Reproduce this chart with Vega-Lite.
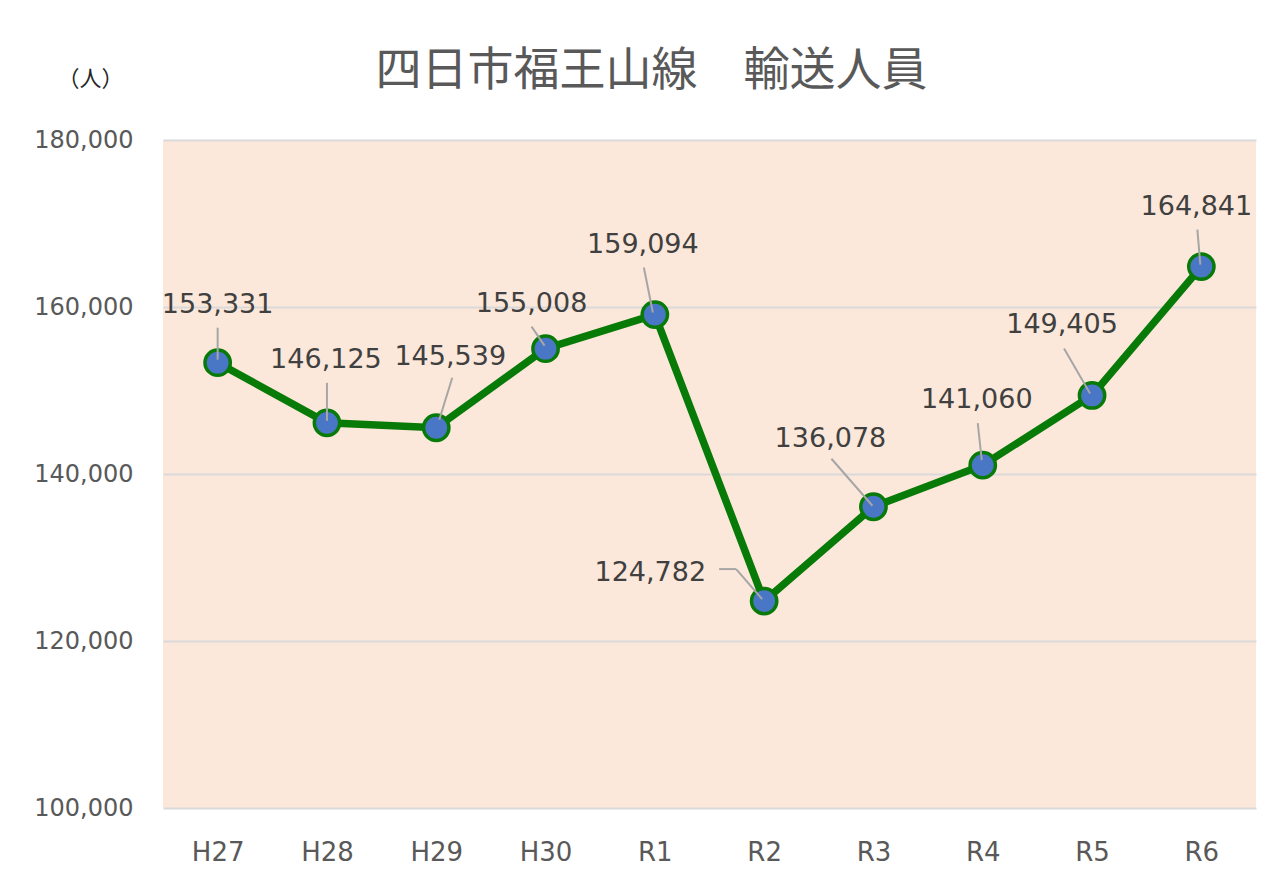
{
  "$schema": "https://vega.github.io/schema/vega-lite/v6.json",
  "width": 1093,
  "height": 668,
  "autosize": "none",
  "padding": {"left": 163, "top": 140, "right": 20, "bottom": 82},
  "background": "#FFFFFF",
  "title": {
    "text": "四日市福王山線　輸送人員",
    "font": "Noto Sans CJK JP",
    "fontSize": 46,
    "fontWeight": "normal",
    "color": "#595959",
    "anchor": "middle",
    "dx": -58,
    "offset": -28
  },
  "config": {
    "view": {"fill": "#FCE8DA", "stroke": null},
    "axis": {"labelFont": "DejaVu Sans", "labelFontSize": 24, "labelColor": "#595959", "ticks": false, "domain": false}
  },
  "data": {
    "values": [
      {"year": "H27", "value": 153331},
      {"year": "H28", "value": 146125},
      {"year": "H29", "value": 145539},
      {"year": "H30", "value": 155008},
      {"year": "R1", "value": 159094},
      {"year": "R2", "value": 124782},
      {"year": "R3", "value": 136078},
      {"year": "R4", "value": 141060},
      {"year": "R5", "value": 149405},
      {"year": "R6", "value": 164841}
    ]
  },
  "encoding": {
    "x": {
      "field": "year", "type": "ordinal", "sort": null,
      "scale": {"type": "point", "padding": 0.5},
      "axis": {"title": null, "labelAngle": 0, "labelPadding": 31, "labelFontSize": 26, "grid": false}
    },
    "y": {
      "field": "value", "type": "quantitative",
      "scale": {"domain": [100000, 180000], "nice": false, "zero": false},
      "axis": {
        "values": [100000, 120000, 140000, 160000, 180000],
        "format": ",.0f",
        "labelPadding": 30,
        "grid": true, "gridColor": "#D9D9D9", "gridWidth": 2,
        "title": "（人）",
        "titleAngle": 0, "titleX": -73, "titleY": -62,
        "titleAlign": "center", "titleBaseline": "middle",
        "titleFont": "Noto Sans CJK JP", "titleFontSize": 22, "titleFontWeight": "normal", "titleColor": "#262626"
      }
    }
  },
  "layer": [
    {"mark": {"type": "line", "color": "#087A08", "strokeWidth": 7.5}},
    {"mark": {"type": "point", "filled": true, "fill": "#4A76C6", "stroke": "#087A08", "strokeWidth": 3.5, "size": 640, "opacity": 1}},
    {
      "transform": [{"filter": "datum.year == 'H27'"}],
      "mark": {"type": "rule", "color": "#A6A6A6", "strokeWidth": 2, "xOffset": 0, "yOffset": -35, "x2Offset": 0, "y2Offset": -3},
      "encoding": {"x2": {"field": "year"}, "y2": {"field": "value"}}
    },
    {
      "transform": [{"filter": "datum.year == 'H28'"}],
      "mark": {"type": "rule", "color": "#A6A6A6", "strokeWidth": 2, "xOffset": 0, "yOffset": -40, "x2Offset": 0, "y2Offset": -2},
      "encoding": {"x2": {"field": "year"}, "y2": {"field": "value"}}
    },
    {
      "transform": [{"filter": "datum.year == 'H29'"}],
      "mark": {"type": "rule", "color": "#A6A6A6", "strokeWidth": 2, "xOffset": 16, "yOffset": -50, "x2Offset": 3, "y2Offset": -8},
      "encoding": {"x2": {"field": "year"}, "y2": {"field": "value"}}
    },
    {
      "transform": [{"filter": "datum.year == 'H30'"}],
      "mark": {"type": "rule", "color": "#A6A6A6", "strokeWidth": 2, "xOffset": -14, "yOffset": -22, "x2Offset": -1, "y2Offset": -3},
      "encoding": {"x2": {"field": "year"}, "y2": {"field": "value"}}
    },
    {
      "transform": [{"filter": "datum.year == 'R1'"}],
      "mark": {"type": "rule", "color": "#A6A6A6", "strokeWidth": 2, "xOffset": -11, "yOffset": -47, "x2Offset": -2, "y2Offset": -2},
      "encoding": {"x2": {"field": "year"}, "y2": {"field": "value"}}
    },
    {
      "transform": [{"filter": "datum.year == 'R2'"}],
      "mark": {"type": "rule", "color": "#A6A6A6", "strokeWidth": 2, "xOffset": -45, "yOffset": -32, "x2Offset": -28, "y2Offset": -32},
      "encoding": {"x2": {"field": "year"}, "y2": {"field": "value"}}
    },
    {
      "transform": [{"filter": "datum.year == 'R2'"}],
      "mark": {"type": "rule", "color": "#A6A6A6", "strokeWidth": 2, "xOffset": -28, "yOffset": -32, "x2Offset": -2, "y2Offset": -2},
      "encoding": {"x2": {"field": "year"}, "y2": {"field": "value"}}
    },
    {
      "transform": [{"filter": "datum.year == 'R3'"}],
      "mark": {"type": "rule", "color": "#A6A6A6", "strokeWidth": 2, "xOffset": -42, "yOffset": -48, "x2Offset": -1, "y2Offset": -1},
      "encoding": {"x2": {"field": "year"}, "y2": {"field": "value"}}
    },
    {
      "transform": [{"filter": "datum.year == 'R4'"}],
      "mark": {"type": "rule", "color": "#A6A6A6", "strokeWidth": 2, "xOffset": -5, "yOffset": -42, "x2Offset": -1, "y2Offset": -5},
      "encoding": {"x2": {"field": "year"}, "y2": {"field": "value"}}
    },
    {
      "transform": [{"filter": "datum.year == 'R5'"}],
      "mark": {"type": "rule", "color": "#A6A6A6", "strokeWidth": 2, "xOffset": -28, "yOffset": -47, "x2Offset": -2, "y2Offset": -2},
      "encoding": {"x2": {"field": "year"}, "y2": {"field": "value"}}
    },
    {
      "transform": [{"filter": "datum.year == 'R6'"}],
      "mark": {"type": "rule", "color": "#A6A6A6", "strokeWidth": 2, "xOffset": -4, "yOffset": -37, "x2Offset": -1, "y2Offset": -2},
      "encoding": {"x2": {"field": "year"}, "y2": {"field": "value"}}
    },
    {
      "transform": [{"filter": "datum.year == 'H27'"}],
      "mark": {"type": "text", "font": "DejaVu Sans", "fontSize": 27, "color": "#404040", "baseline": "alphabetic", "align": "center", "dx": 0, "dy": -50},
      "encoding": {"text": {"field": "value", "type": "quantitative", "format": ",.0f"}}
    },
    {
      "transform": [{"filter": "datum.year == 'H28'"}],
      "mark": {"type": "text", "font": "DejaVu Sans", "fontSize": 27, "color": "#404040", "baseline": "alphabetic", "align": "center", "dx": -1, "dy": -55},
      "encoding": {"text": {"field": "value", "type": "quantitative", "format": ",.0f"}}
    },
    {
      "transform": [{"filter": "datum.year == 'H29'"}],
      "mark": {"type": "text", "font": "DejaVu Sans", "fontSize": 27, "color": "#404040", "baseline": "alphabetic", "align": "center", "dx": 14, "dy": -63},
      "encoding": {"text": {"field": "value", "type": "quantitative", "format": ",.0f"}}
    },
    {
      "transform": [{"filter": "datum.year == 'H30'"}],
      "mark": {"type": "text", "font": "DejaVu Sans", "fontSize": 27, "color": "#404040", "baseline": "alphabetic", "align": "center", "dx": -14, "dy": -37},
      "encoding": {"text": {"field": "value", "type": "quantitative", "format": ",.0f"}}
    },
    {
      "transform": [{"filter": "datum.year == 'R1'"}],
      "mark": {"type": "text", "font": "DejaVu Sans", "fontSize": 27, "color": "#404040", "baseline": "alphabetic", "align": "center", "dx": -12, "dy": -62},
      "encoding": {"text": {"field": "value", "type": "quantitative", "format": ",.0f"}}
    },
    {
      "transform": [{"filter": "datum.year == 'R2'"}],
      "mark": {"type": "text", "font": "DejaVu Sans", "fontSize": 27, "color": "#404040", "baseline": "alphabetic", "align": "right", "dx": -58, "dy": -20},
      "encoding": {"text": {"field": "value", "type": "quantitative", "format": ",.0f"}}
    },
    {
      "transform": [{"filter": "datum.year == 'R3'"}],
      "mark": {"type": "text", "font": "DejaVu Sans", "fontSize": 27, "color": "#404040", "baseline": "alphabetic", "align": "center", "dx": -43, "dy": -60},
      "encoding": {"text": {"field": "value", "type": "quantitative", "format": ",.0f"}}
    },
    {
      "transform": [{"filter": "datum.year == 'R4'"}],
      "mark": {"type": "text", "font": "DejaVu Sans", "fontSize": 27, "color": "#404040", "baseline": "alphabetic", "align": "center", "dx": -6, "dy": -57},
      "encoding": {"text": {"field": "value", "type": "quantitative", "format": ",.0f"}}
    },
    {
      "transform": [{"filter": "datum.year == 'R5'"}],
      "mark": {"type": "text", "font": "DejaVu Sans", "fontSize": 27, "color": "#404040", "baseline": "alphabetic", "align": "center", "dx": -30, "dy": -62},
      "encoding": {"text": {"field": "value", "type": "quantitative", "format": ",.0f"}}
    },
    {
      "transform": [{"filter": "datum.year == 'R6'"}],
      "mark": {"type": "text", "font": "DejaVu Sans", "fontSize": 27, "color": "#404040", "baseline": "alphabetic", "align": "center", "dx": -5, "dy": -52},
      "encoding": {"text": {"field": "value", "type": "quantitative", "format": ",.0f"}}
    }
  ]
}
